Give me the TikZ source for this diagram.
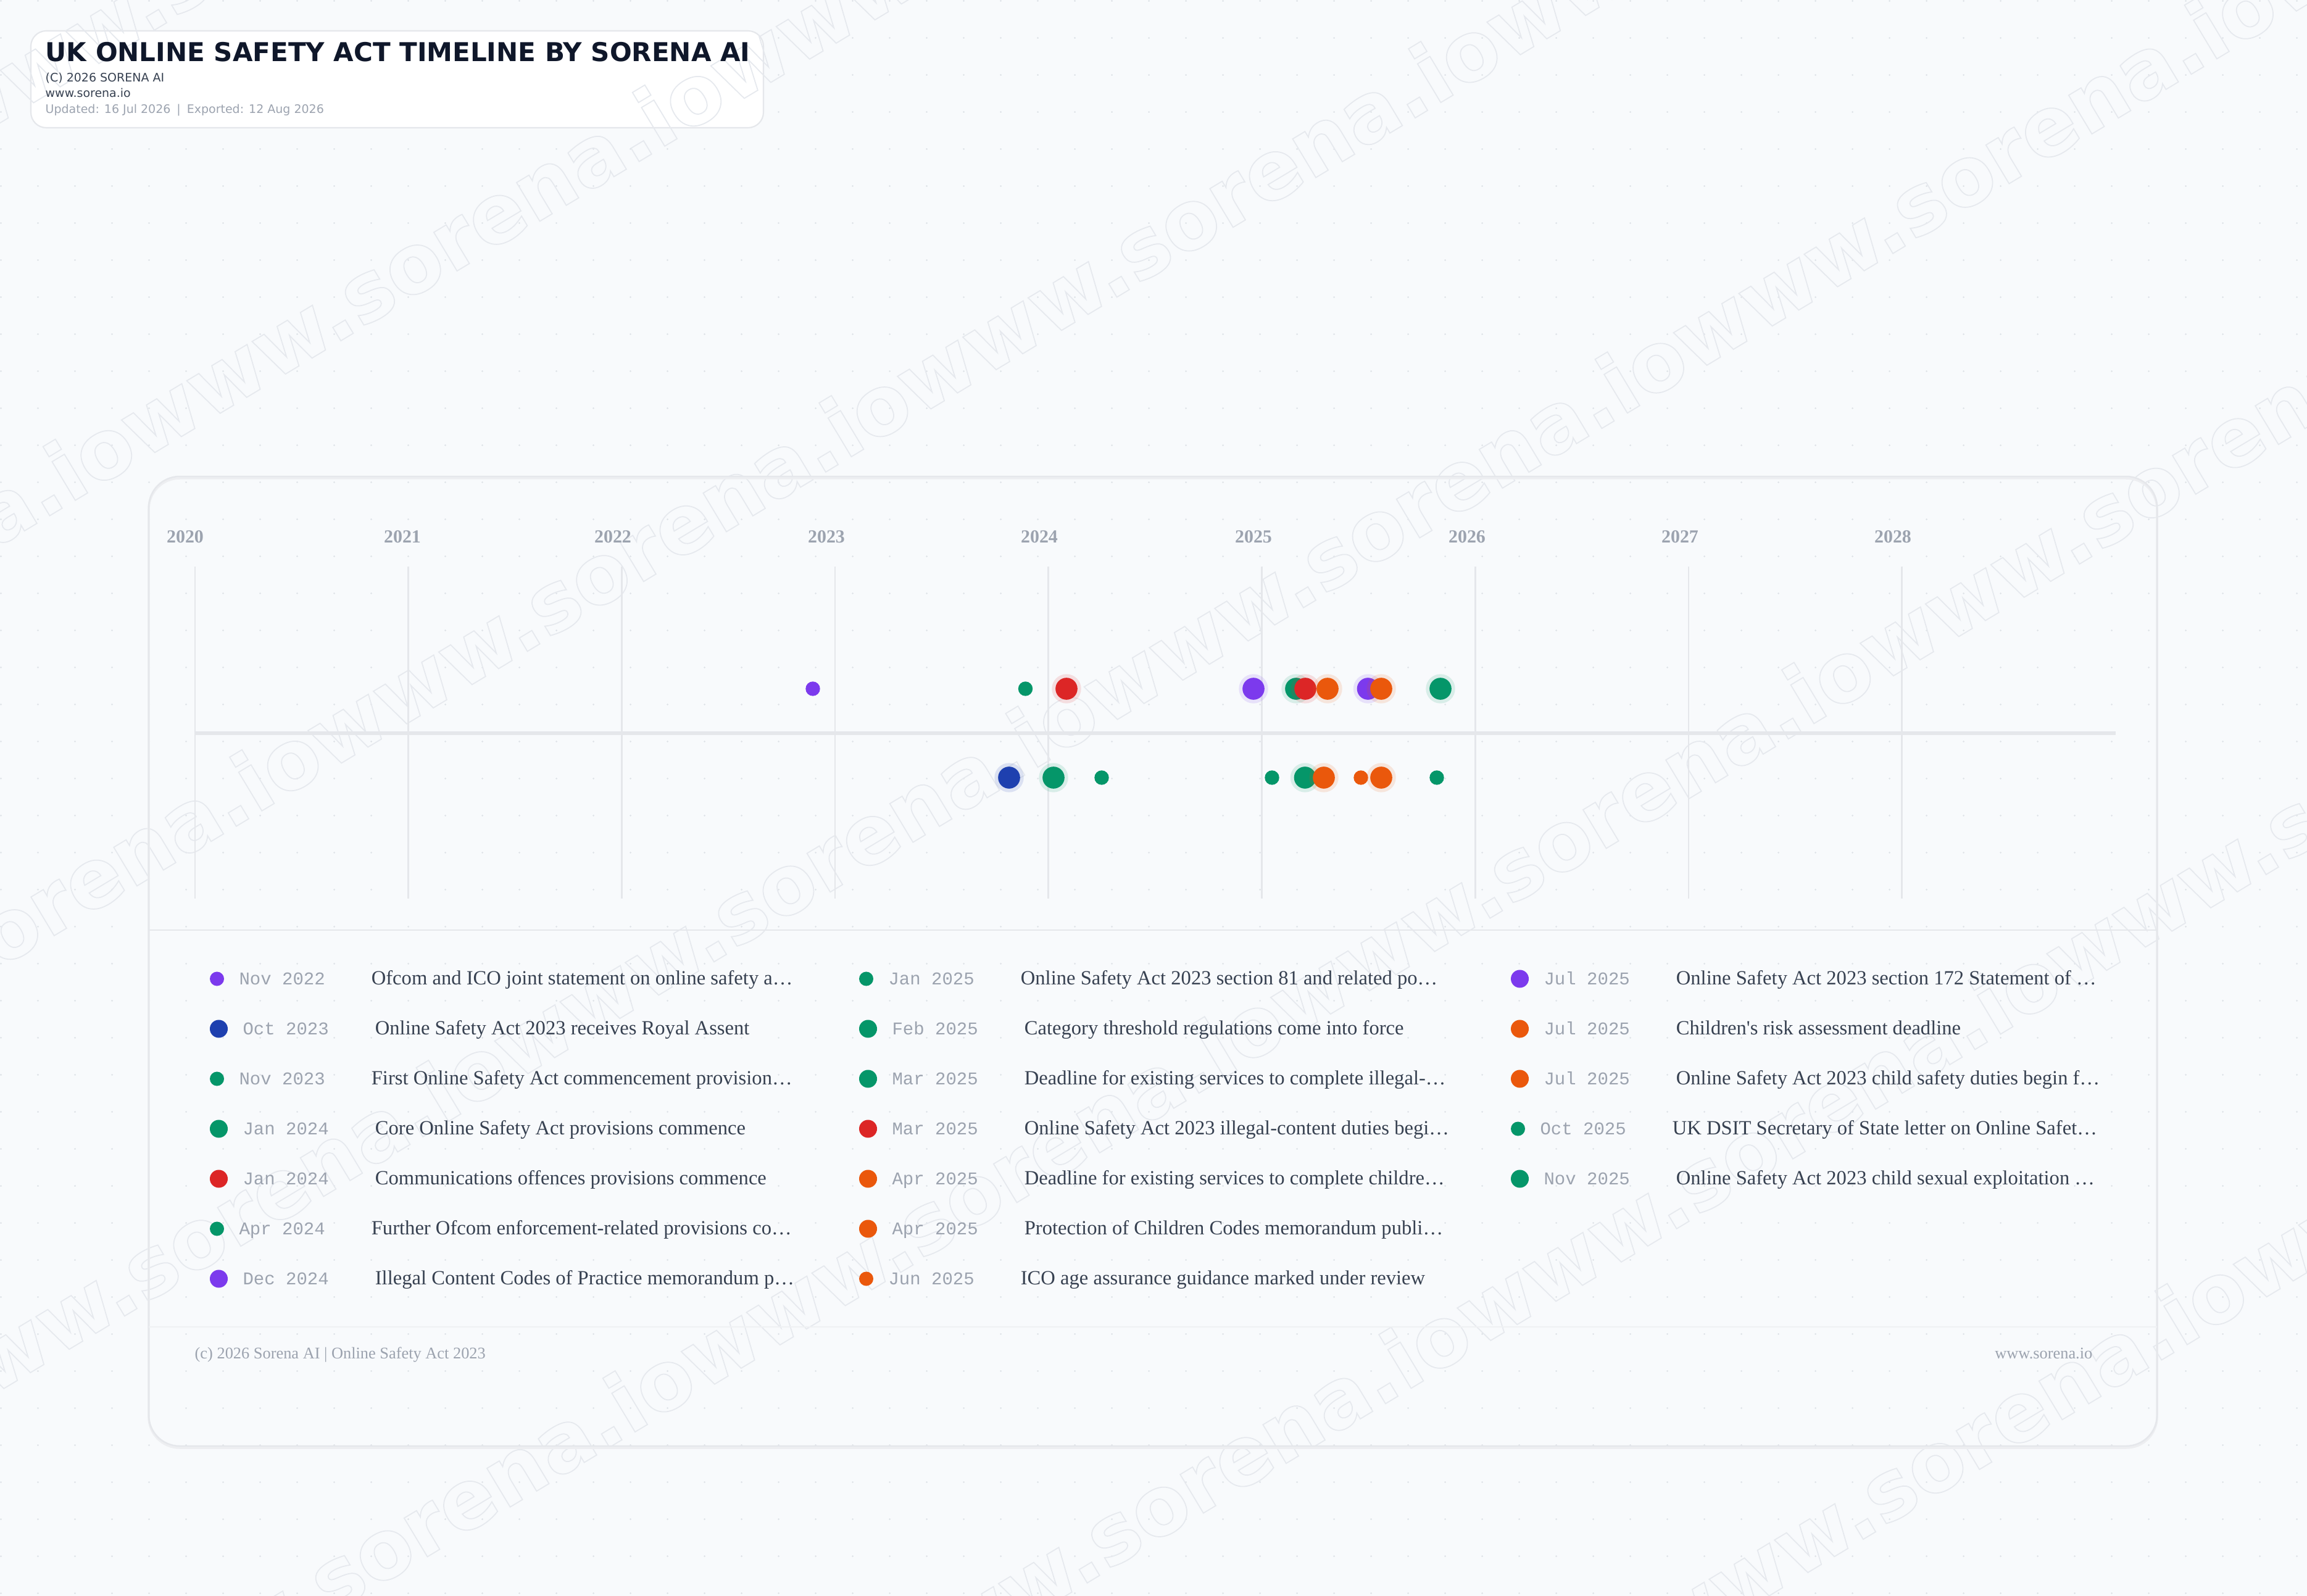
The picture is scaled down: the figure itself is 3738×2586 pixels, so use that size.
\documentclass[tikz,border=0pt]{standalone}
\usepackage{fontspec}
\setmainfont{Liberation Serif}
\newfontfamily\headfont{DejaVu Sans}
\newfontfamily\datefont{Liberation Mono}
\usetikzlibrary{positioning}

\definecolor{bgcol}{HTML}{F8FAFC}
\definecolor{gridcol}{HTML}{E5E7EB}
\definecolor{dotcol}{HTML}{DFE3E8}
\definecolor{inkcol}{HTML}{0F172A}
\definecolor{subcol}{HTML}{374151}
\definecolor{mutedcol}{HTML}{9CA3AF}
\definecolor{markcol}{HTML}{E6E9EE}
\definecolor{evP}{HTML}{7C3AED}
\definecolor{evB}{HTML}{1E40AF}
\definecolor{evG}{HTML}{059669}
\definecolor{evR}{HTML}{DC2626}
\definecolor{evO}{HTML}{EA580C}

\newcommand{\outlinetext}[1]{\special{pdf:literal direct 1 Tr}#1\special{pdf:literal direct 0 Tr}}

\begin{document}
\begin{tikzpicture}[x=0.01cm, y=-0.01cm,
                    bigdot/.style={circle, inner sep=0pt, outer sep=0pt, minimum size=0.356cm},
                    smalldot/.style={circle, inner sep=0pt, outer sep=0pt, minimum size=0.234cm},
                    halo/.style={circle, inner sep=0pt, outer sep=0pt, minimum size=0.474cm, fill opacity=0.13},
                    legdot/.style={circle, inner sep=0pt, outer sep=0pt, anchor=west},
                    yearlbl/.style={font=\fontsize{8.5pt}{10pt}\selectfont\bfseries, text=mutedcol, inner sep=0pt},
                    datelbl/.style={font=\datefont\fontsize{8.25pt}{10pt}\selectfont, text=mutedcol, inner sep=0pt, outer sep=0pt, text height=0.19cm, text depth=0pt},
                    desclbl/.style={font=\fontsize{9.27pt}{11pt}\selectfont, text=subcol, inner sep=0pt, outer sep=0pt, text height=0.19cm, text depth=0pt},
                    footlbl/.style={font=\fontsize{7.5pt}{9pt}\selectfont, text=mutedcol, inner sep=0pt},
                    wmark/.style={font=\headfont\bfseries\fontsize{38pt}{40pt}\selectfont, text=markcol, inner sep=0pt, anchor=base west},
                    gridline/.style={draw=gridcol, line width=0.77pt},]
    \useasboundingbox (0,0) rectangle (3738,2586);
    % background and dot grid
    \fill[bgcol] (0,0) rectangle (3738,2586);
    \foreach \i in {0,...,62}
        \foreach \j in {0,...,43}
            \fill[dotcol] (60*\i+1.5,60*\j+1.5) circle[radius=0.015cm];
    % title card
    \draw[gridcol, fill=white, line width=0.6pt, rounded corners=0.25cm] (50,50) rectangle (1237,207);
    % watermark
    \begin{scope}[line width=0.5pt]
        \clip (0,0) rectangle (3738,2586);
        \begin{scope}[shift={(50,854)}, rotate=31, transform shape]
            \foreach \k in {-1,...,5}
                \node[wmark] (wm\k) at (-2019,\k*587) {\outlinetext{www.sorena.iowww.sorena.iowww.sorena.iowww.sorena.iowww.sorena.iowww.sorena.io}};
        \end{scope}
    \end{scope}
    % title texts
    \node[anchor=base west, inner sep=0pt, text=inkcol, font=\headfont\bfseries\fontsize{11.95pt}{13pt}\selectfont] (title) at (73,100) {UK ONLINE SAFETY ACT TIMELINE BY SORENA AI};
    \node[anchor=base west, inner sep=0pt, text=subcol, font=\headfont\fontsize{5.4pt}{6pt}\selectfont] (copy) at (73,133) {(C) 2026 SORENA AI};
    \node[anchor=base west, inner sep=0pt, text=subcol, font=\headfont\fontsize{5.4pt}{6pt}\selectfont] (site) at (73,158) {www.sorena.io};
    \node[anchor=base west, inner sep=0pt, text=mutedcol, font=\headfont\fontsize{5.4pt}{6pt}\selectfont] (stamp) at (73,184) {Updated: 16 Jul 2026\hspace{0.1cm}|\hspace{0.1cm}Exported: 12 Aug 2026};
    % main card
    \draw[gridcol!70, line width=1pt, rounded corners=0.5cm] (241,775) rectangle (3495,2346);
    \draw[gridcol, line width=0.7pt, rounded corners=0.5cm] (241,772) rectangle (3495,2343);
    % years and grid
    \foreach \yr/\lx [count=\k from 0] in {2020/300, 2021/652, 2022/993, 2023/1339, 2024/1684, 2025/2031, 2026/2377, 2027/2722, 2028/3067} {
        \node[yearlbl] (yr\yr) at (\lx,870) {\yr};
        \draw[gridline] (316+345.7*\k,918) -- (316+345.7*\k,1456);
    }
    \draw[gridcol, line width=1.56pt] (316,1188) -- (3428,1188);
    % events
    \foreach \x/\y/\c [count=\i] in {1317/1116/evP, 1661.5/1116/evG, 1785/1260/evG, 2061/1260/evG, 2205/1260/evO, 2328/1260/evG}
        \node[smalldot, fill=\c] (es\i) at (\x,\y) {};
    \foreach \x/\y/\c [count=\i] in {1635/1260/evB, 1707/1260/evG, 1728/1116/evR, 2031/1116/evP, 2100/1116/evG, 2115/1116/evR,
                                     2114.5/1260/evG, 2151/1116/evO, 2145/1260/evO, 2216.5/1116/evP, 2238/1116/evO, 2238/1260/evO, 2334/1116/evG} {
        \node[halo, fill=\c] (eh\i) at (\x,\y) {};
        \node[bigdot, fill=\c] (eb\i) at (\x,\y) {};
    }
    % legend
    \draw[gridcol, line width=0.6pt] (241,1507) -- (3495,1507);
    \foreach \cx/\ry/\c/\d/\dt/\txt [count=\i] in {
        340/1586/evP/0.23/Nov 2022/Ofcom and ICO joint statement on online safety a…,
        340/1667/evB/0.29/Oct 2023/Online Safety Act 2023 receives Royal Assent,
        340/1748/evG/0.23/Nov 2023/First Online Safety Act commencement provision…,
        340/1829/evG/0.29/Jan 2024/Core Online Safety Act provisions commence,
        340/1910/evR/0.29/Jan 2024/Communications offences provisions commence,
        340/1991/evG/0.23/Apr 2024/Further Ofcom enforcement-related provisions co…,
        340/2072/evP/0.29/Dec 2024/Illegal Content Codes of Practice memorandum p…,
        1392/1586/evG/0.23/Jan 2025/Online Safety Act 2023 section 81 and related po…,
        1392/1667/evG/0.29/Feb 2025/Category threshold regulations come into force,
        1392/1748/evG/0.29/Mar 2025/Deadline for existing services to complete illegal-…,
        1392/1829/evR/0.29/Mar 2025/Online Safety Act 2023 illegal-content duties begi…,
        1392/1910/evO/0.29/Apr 2025/Deadline for existing services to complete childre…,
        1392/1991/evO/0.29/Apr 2025/Protection of Children Codes memorandum publi…,
        1392/2072/evO/0.23/Jun 2025/ICO age assurance guidance marked under review,
        2448/1586/evP/0.29/Jul 2025/Online Safety Act 2023 section 172 Statement of …,
        2448/1667/evO/0.29/Jul 2025/Children\textquotesingle s risk assessment deadline,
        2448/1748/evO/0.29/Jul 2025/Online Safety Act 2023 child safety duties begin f…,
        2448/1829/evG/0.23/Oct 2025/UK DSIT Secretary of State letter on Online Safet…,
        2448/1910/evG/0.29/Nov 2025/Online Safety Act 2023 child sexual exploitation …} {
        \node[legdot, fill=\c, minimum size=\d cm] (lg\i) at (\cx,\ry) {};
        \node[datelbl, right=0.245cm of lg\i] (ld\i) {\dt};
        \node[desclbl, right=0.75cm of ld\i] (lt\i) {\txt};
    }
    % footer
    \draw[gridcol!60, line width=0.6pt] (241,2150) -- (3495,2150);
    \node[footlbl, anchor=base west] (footl) at (315,2201) {(c) 2026 Sorena AI | Online Safety Act 2023};
    \node[footlbl, anchor=base east] (footr) at (3391,2201) {www.sorena.io};
\end{tikzpicture}
\end{document}
